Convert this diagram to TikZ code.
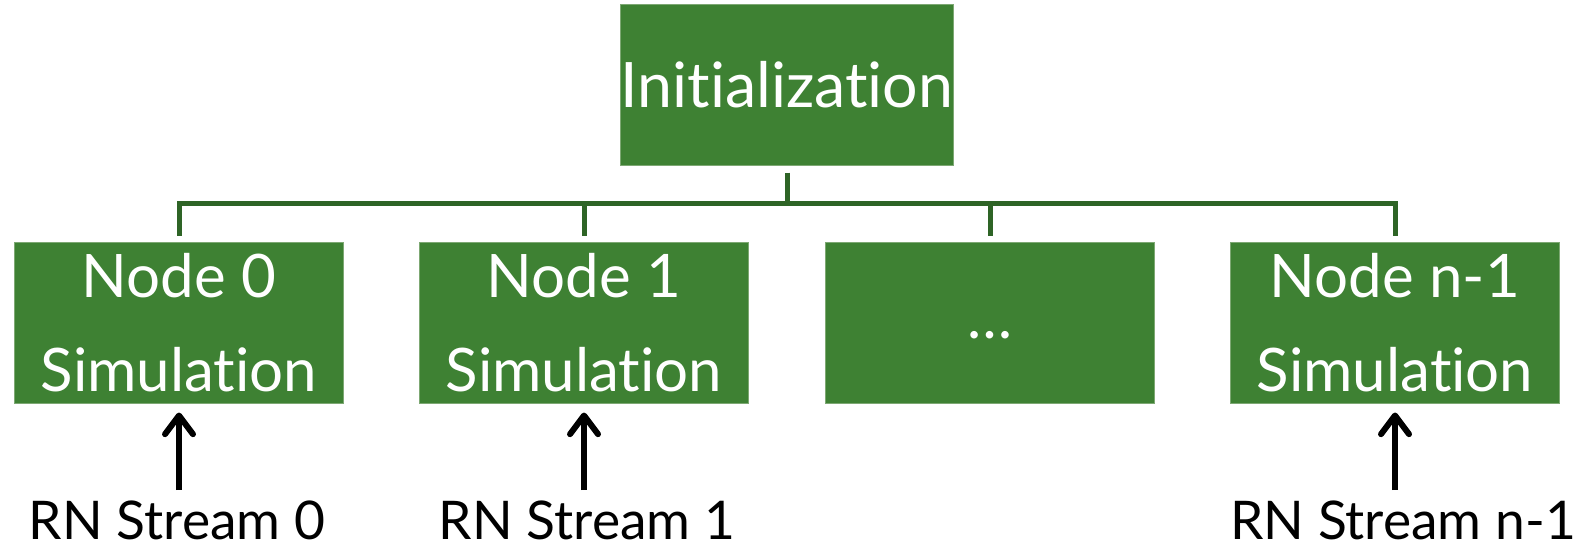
\documentclass[tikz,border=0pt]{standalone}
\usepackage{fontspec}
\setmainfont{Lato}[Ligatures={NoCommon,NoRare}]
\usetikzlibrary{arrows.meta}
\definecolor{boxgreen}{RGB}{62,129,51}
\definecolor{edgegreen}{RGB}{125,168,115}
\definecolor{linegreen}{RGB}{46,100,38}

\begin{document}
\begin{tikzpicture}[x=0.75pt,y=-0.75pt,
  simbox/.style={draw=edgegreen, line width=0.75pt, fill=boxgreen, text=white,
    minimum width=246.75pt, minimum height=120.75pt, inner sep=0pt, align=center,
    font=\fontsize{45}{70}\selectfont},
  conn/.style={draw=linegreen, line width=3.75pt},
  arr/.style={line width=4.5pt, -{Straight Barb[length=14pt,width=21pt,round]},
    shorten <=7.5pt, shorten >=6.75pt},
  stream/.style={font=\fontsize{40}{48}\selectfont, inner sep=0pt, anchor=base}]
\useasboundingbox (0,0) rectangle (1583,547); %canvas
\node[simbox, minimum width=247.5pt, font=\fontsize{47}{56}\selectfont] (init) at (787,84.5) {Initialization}; %top box
\node[simbox] (sim0) at (179,322.5) {Node 0\\Simulation}; %first node
\node[simbox] (sim1) at (584,322.5) {Node 1\\Simulation};
\node[simbox] (sim2) at (990,322.5) {\vphantom{Ngj}\dots}; %the dots box
\node[simbox] (sim3) at (1395,322.5) {Node n-1\\Simulation}; %last node
\node[stream] (str0) at (177,539) {RN Stream 0}; %stream labels
\node[stream] (str1) at (587,539) {RN Stream 1};
\node[stream] (str3) at (1403,539) {RN Stream n-1};
\coordinate (bar) at (0,203); %height of the bar
\draw[conn] ([yshift=-5.25pt]init.south) -- (init.south |- bar); %tick under init
\draw[conn, line cap=rect] (sim0.north |- bar) -- (sim3.north |- bar); %the bar
\foreach \i in {0,...,3}
  \draw[conn] (sim\i.north |- bar) -- ([yshift=4.5pt]sim\i.north); %ticks down
\foreach \i in {0,1,3}
  \draw[arr] (sim\i.south |- str\i.north) -- (sim\i.south); %stream arrows
\end{tikzpicture}
\end{document}
